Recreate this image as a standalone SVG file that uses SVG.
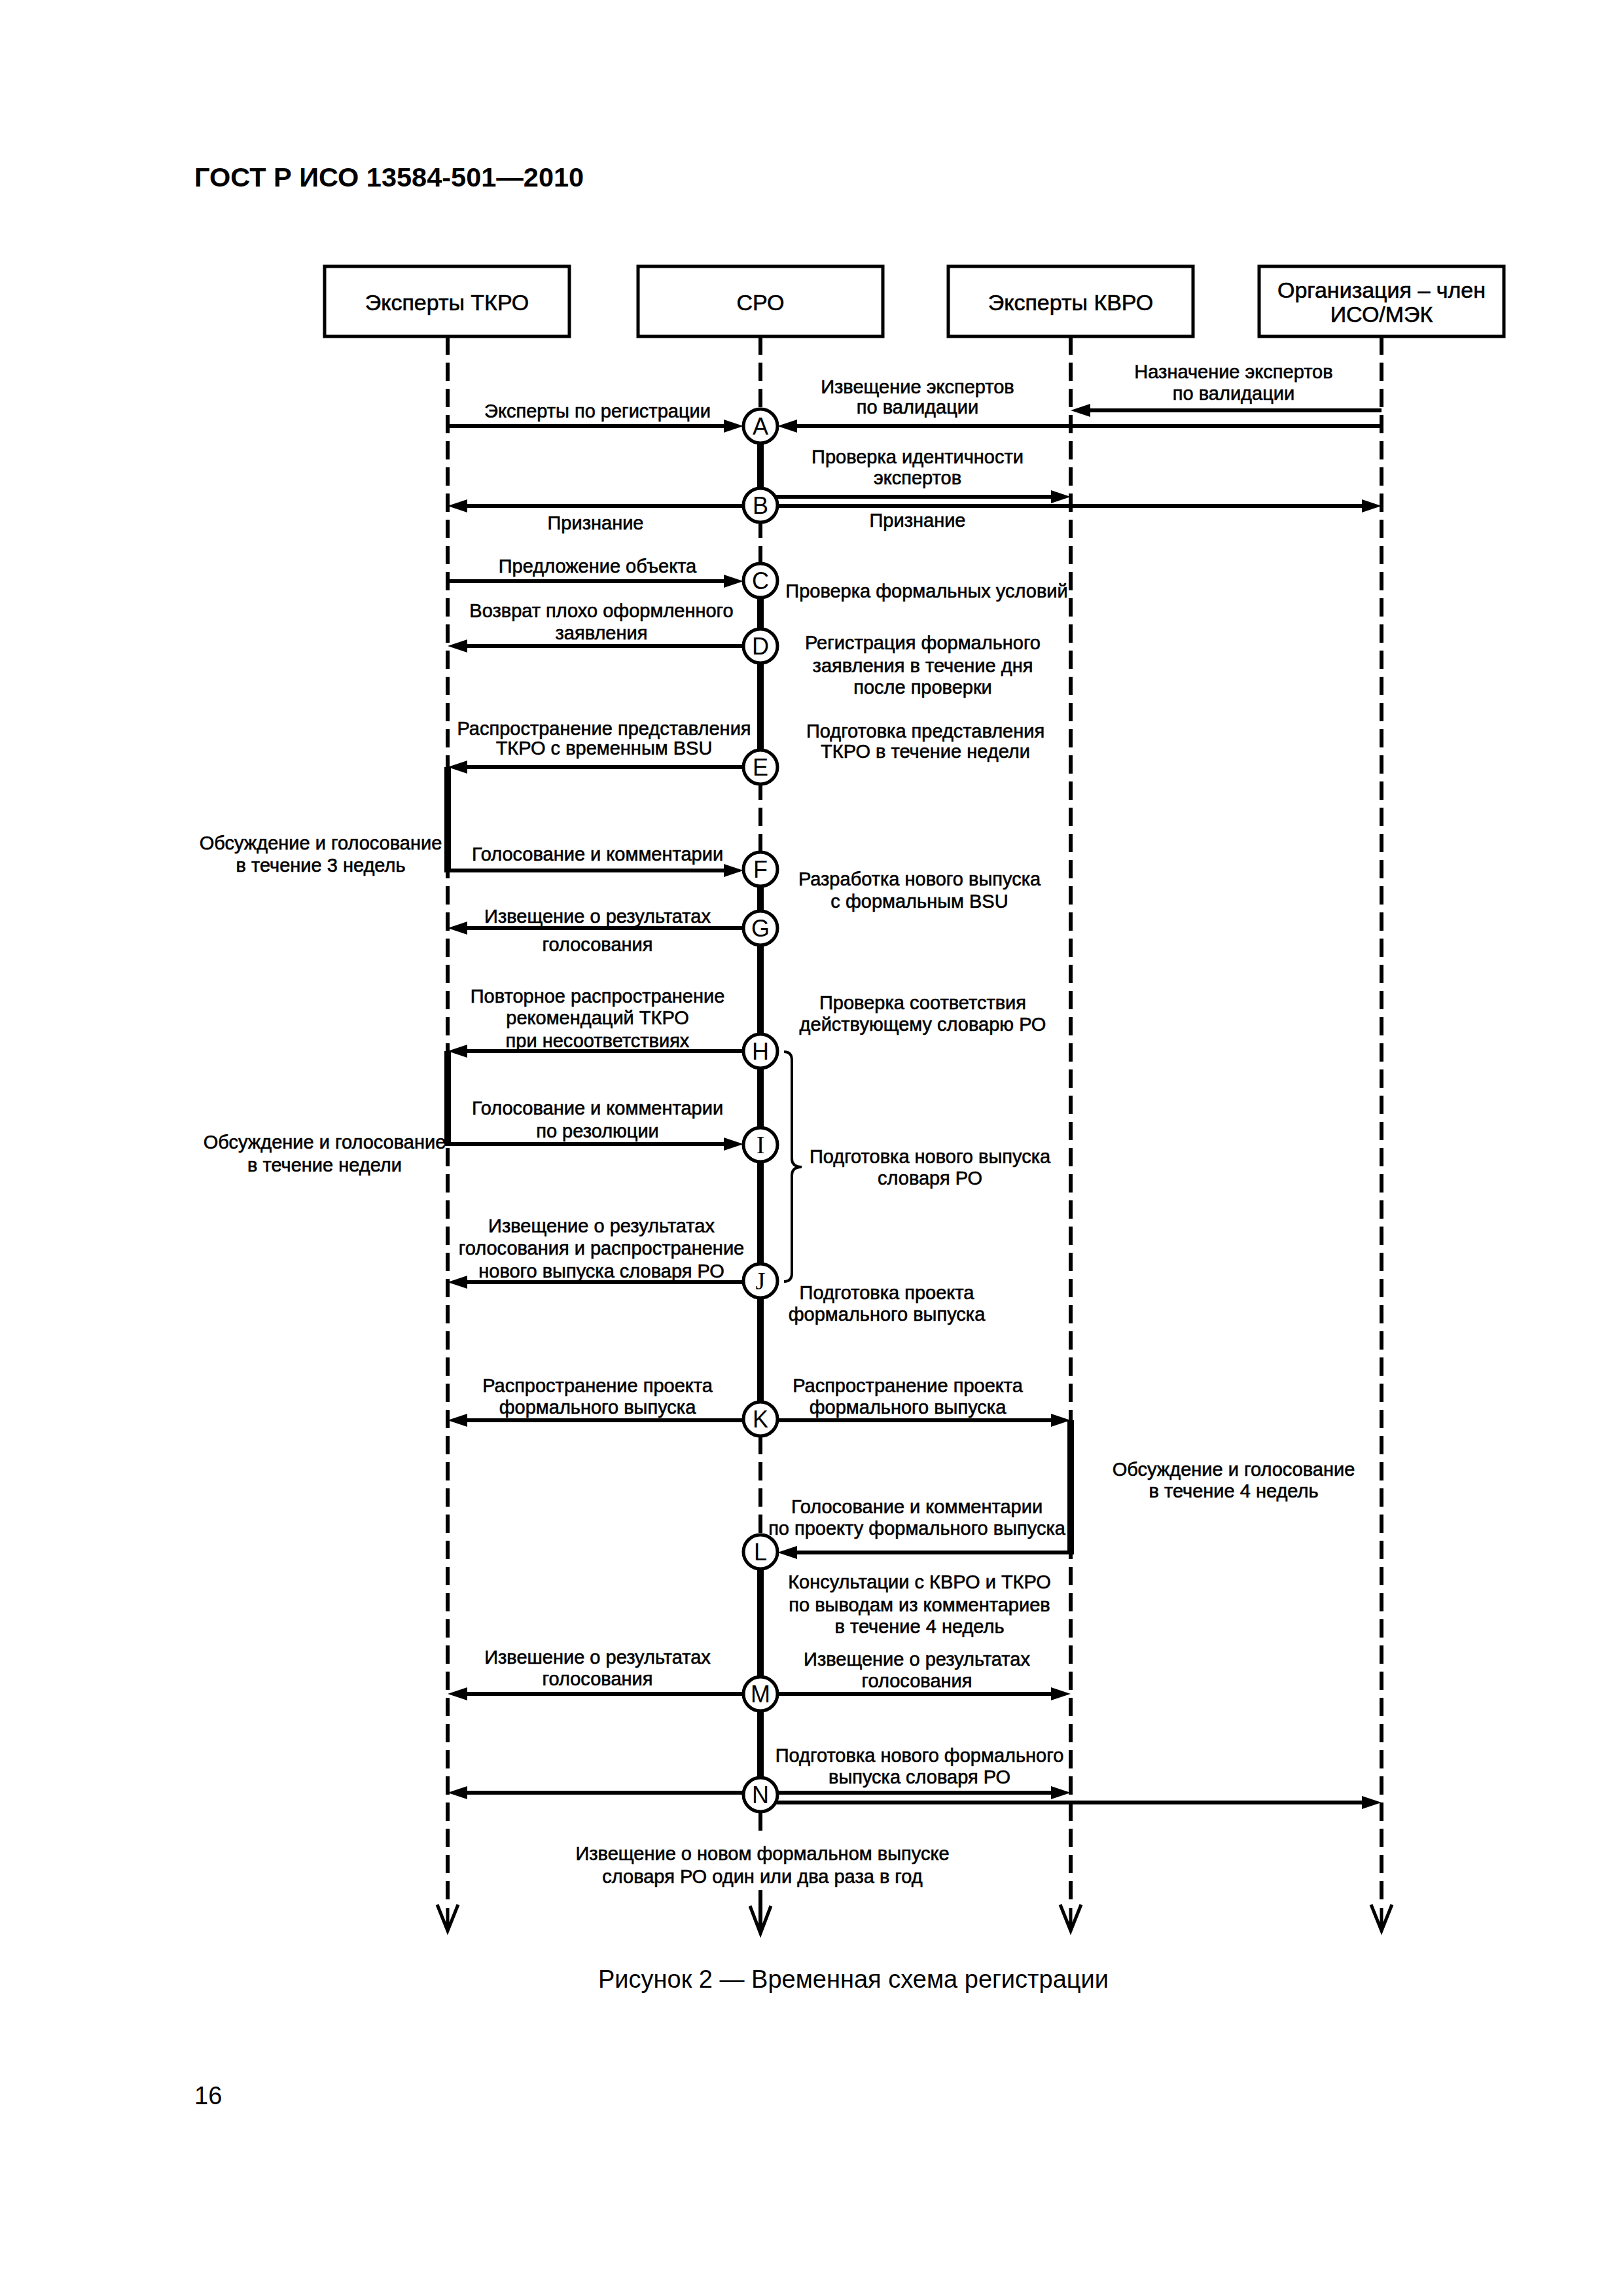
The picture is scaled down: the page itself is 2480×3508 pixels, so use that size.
<svg xmlns="http://www.w3.org/2000/svg" width="2480" height="3508" viewBox="0 0 2480 3508">
<style>
  text { font-family: "Liberation Sans", Arial, sans-serif; fill: #000; }
  .lbl { font-size: 29px; text-anchor: middle; stroke: #000; stroke-width: 0.6; }
  .box { fill: #fff; stroke: #000; stroke-width: 5; }
  .boxt { font-size: 34px; text-anchor: middle; stroke: #000; stroke-width: 0.6; }
  .ll { stroke: #000; stroke-width: 6; stroke-dasharray: 28 12; fill: none; }
  .thin { stroke: #000; stroke-width: 6; fill: none; }
  .act { stroke: #000; stroke-width: 10; fill: none; }
  .msg { stroke: #000; stroke-width: 6; fill: none; marker-end: url(#ah); }
  .cir { fill: #fff; stroke: #000; stroke-width: 5; }
  .cl { font-size: 36px; text-anchor: middle; }
  .cls { font-family: "Liberation Serif", "Times New Roman", serif; font-size: 38px; text-anchor: middle; }
  .tip { fill: none; stroke: #000; stroke-width: 5; }
  .brace { fill: none; stroke: #000; stroke-width: 4; }
</style>
<defs>
  <marker id="ah" markerUnits="userSpaceOnUse" markerWidth="30" markerHeight="20" refX="2" refY="10" orient="auto">
    <path d="M0,0 L30,10 L0,20 Z" fill="#000"/>
  </marker>
</defs>
<rect width="2480" height="3508" fill="#fff"/>

<text x="297" y="285" font-size="41.5" font-weight="bold">ГОСТ Р ИСО 13584-501—2010</text>

<g id="lifelines">
  <line class="ll" x1="684" y1="514" x2="684" y2="2912"/>
  <line class="ll" x1="1162" y1="514" x2="1162" y2="2760"/>
  <line class="thin" x1="1162" y1="2766" x2="1162" y2="2797"/>
  <line class="thin" x1="1162" y1="2888" x2="1162" y2="2950"/>
  <line class="ll" x1="1636" y1="514" x2="1636" y2="2912"/>
  <line class="ll" x1="2111" y1="514" x2="2111" y2="2912"/>
  <path class="tip" d="M668,2910 L684,2950 L700,2910 M684,2915 L684,2946"/>
  <path class="tip" d="M1146,2912 L1162,2954 L1178,2912"/>
  <path class="tip" d="M1620,2910 L1636,2950 L1652,2910 M1636,2915 L1636,2946"/>
  <path class="tip" d="M2095,2910 L2111,2950 L2127,2910 M2111,2915 L2111,2946"/>
</g>

<g id="activations">
  <line class="act" x1="1162" y1="651" x2="1162" y2="773"/>
  <line class="act" x1="1162" y1="887" x2="1162" y2="1172"/>
  <line class="act" x1="1162" y1="1328" x2="1162" y2="2170"/>
  <line class="act" x1="1162" y1="2370" x2="1162" y2="2742"/>
  <line class="act" x1="684" y1="1172" x2="684" y2="1333"/>
  <line class="act" x1="684" y1="1606" x2="684" y2="1751"/>
  <line class="act" x1="1636" y1="2170" x2="1636" y2="2375"/>
</g>

<g id="node-tkro">
  <rect class="box" x="496" y="407" width="374" height="107"/>
  <text class="boxt" x="683" y="474">Эксперты ТКРО</text>
</g>
<g id="node-sro">
  <rect class="box" x="975" y="407" width="374" height="107"/>
  <text class="boxt" x="1162" y="474">СРО</text>
</g>
<g id="node-kvro">
  <rect class="box" x="1449" y="407" width="374" height="107"/>
  <text class="boxt" x="1636" y="474">Эксперты КВРО</text>
</g>
<g id="node-org">
  <rect class="box" x="1924" y="407" width="374" height="107"/>
  <text class="boxt" x="2111" y="455">Организация – член</text>
  <text class="boxt" x="2111" y="492">ИСО/МЭК</text>
</g>

<g id="connectors">
  <!-- A -->
  <line class="msg" x1="684" y1="651" x2="1108" y2="651"/>
  <line class="msg" x1="2111" y1="651" x2="1216" y2="651"/>
  <line class="msg" x1="2111" y1="627" x2="1664" y2="627"/>
  <!-- B -->
  <line class="msg" x1="1136" y1="773" x2="712" y2="773"/>
  <line class="msg" x1="1188" y1="773" x2="2083" y2="773"/>
  <line class="msg" x1="1183" y1="759" x2="1608" y2="759"/>
  <!-- C -->
  <line class="msg" x1="684" y1="888" x2="1108" y2="888"/>
  <!-- D -->
  <line class="msg" x1="1136" y1="987" x2="712" y2="987"/>
  <!-- E -->
  <line class="msg" x1="1136" y1="1172" x2="712" y2="1172"/>
  <!-- F -->
  <line class="msg" x1="684" y1="1330" x2="1108" y2="1330"/>
  <!-- G -->
  <line class="msg" x1="1136" y1="1418" x2="712" y2="1418"/>
  <!-- H -->
  <line class="msg" x1="1136" y1="1606" x2="712" y2="1606"/>
  <!-- I -->
  <line class="msg" x1="684" y1="1748" x2="1108" y2="1748"/>
  <!-- J -->
  <line class="msg" x1="1136" y1="1959" x2="712" y2="1959"/>
  <!-- K -->
  <line class="msg" x1="1136" y1="2170" x2="712" y2="2170"/>
  <line class="msg" x1="1188" y1="2170" x2="1608" y2="2170"/>
  <!-- L -->
  <line class="msg" x1="1636" y1="2372" x2="1216" y2="2372"/>
  <!-- M -->
  <line class="msg" x1="1136" y1="2588" x2="712" y2="2588"/>
  <line class="msg" x1="1188" y1="2588" x2="1608" y2="2588"/>
  <!-- N -->
  <line class="msg" x1="1136" y1="2739" x2="712" y2="2739"/>
  <line class="msg" x1="1188" y1="2739" x2="1608" y2="2739"/>
  <line class="msg" x1="1186" y1="2754" x2="2083" y2="2754"/>
  <!-- brace H..J -->
  <path class="brace" d="M1198,1607 Q1210,1607 1210,1620 L1210,1770 Q1210,1783 1225,1783 Q1210,1783 1210,1796 L1210,1945 Q1210,1958 1198,1958"/>
</g>

<g id="node-A"><circle class="cir" cx="1162" cy="651" r="26"/><text class="cl" x="1162" y="664">A</text></g>
<g id="node-B"><circle class="cir" cx="1162" cy="772" r="26"/><text class="cl" x="1162" y="785">B</text></g>
<g id="node-C"><circle class="cir" cx="1162" cy="887" r="26"/><text class="cl" x="1162" y="900">C</text></g>
<g id="node-D"><circle class="cir" cx="1162" cy="987" r="26"/><text class="cl" x="1162" y="1000">D</text></g>
<g id="node-E"><circle class="cir" cx="1162" cy="1172" r="26"/><text class="cl" x="1162" y="1185">E</text></g>
<g id="node-F"><circle class="cir" cx="1162" cy="1328" r="26"/><text class="cl" x="1162" y="1341">F</text></g>
<g id="node-G"><circle class="cir" cx="1162" cy="1418" r="26"/><text class="cl" x="1162" y="1431">G</text></g>
<g id="node-H"><circle class="cir" cx="1162" cy="1606" r="26"/><text class="cl" x="1162" y="1619">H</text></g>
<g id="node-I"><circle class="cir" cx="1162" cy="1749" r="26"/><text class="cls" x="1162" y="1762">I</text></g>
<g id="node-J"><circle class="cir" cx="1162" cy="1957" r="26"/><text class="cls" x="1162" y="1970">J</text></g>
<g id="node-K"><circle class="cir" cx="1162" cy="2168" r="26"/><text class="cl" x="1162" y="2181">K</text></g>
<g id="node-L"><circle class="cir" cx="1162" cy="2371" r="26"/><text class="cl" x="1162" y="2384">L</text></g>
<g id="node-M"><circle class="cir" cx="1162" cy="2588" r="26"/><text class="cl" x="1162" y="2601">M</text></g>
<g id="node-N"><circle class="cir" cx="1162" cy="2742" r="26"/><text class="cl" x="1162" y="2755">N</text></g>

<g id="labels">
  <text class="lbl" x="913" y="638">Эксперты по регистрации</text>
  <text class="lbl" x="1402" y="601">Извещение экспертов</text>
  <text class="lbl" x="1402" y="632">по валидации</text>
  <text class="lbl" x="1885" y="578">Назначение экспертов</text>
  <text class="lbl" x="1885" y="611">по валидации</text>
  <text class="lbl" x="1402" y="708">Проверка идентичности</text>
  <text class="lbl" x="1402" y="740">экспертов</text>
  <text class="lbl" x="910" y="809">Признание</text>
  <text class="lbl" x="1402" y="805">Признание</text>
  <text class="lbl" x="913" y="875">Предложение объекта</text>
  <text class="lbl" x="1416" y="913">Проверка формальных условий</text>
  <text class="lbl" x="919" y="943">Возврат плохо оформленного</text>
  <text class="lbl" x="919" y="977">заявления</text>
  <text class="lbl" x="1410" y="992">Регистрация формального</text>
  <text class="lbl" x="1410" y="1027">заявления в течение дня</text>
  <text class="lbl" x="1410" y="1060">после проверки</text>
  <text class="lbl" x="923" y="1123">Распространение представления</text>
  <text class="lbl" x="923" y="1153">ТКРО с временным BSU</text>
  <text class="lbl" x="1414" y="1127">Подготовка представления</text>
  <text class="lbl" x="1414" y="1158">ТКРО в течение недели</text>
  <text class="lbl" x="490" y="1298">Обсуждение и голосование</text>
  <text class="lbl" x="490" y="1332">в течение 3 недель</text>
  <text class="lbl" x="913" y="1315">Голосование и комментарии</text>
  <text class="lbl" x="1405" y="1353">Разработка нового выпуска</text>
  <text class="lbl" x="1405" y="1387">с формальным BSU</text>
  <text class="lbl" x="913" y="1410">Извещение о результатах</text>
  <text class="lbl" x="913" y="1453">голосования</text>
  <text class="lbl" x="1410" y="1542">Проверка соответствия</text>
  <text class="lbl" x="1410" y="1575">действующему словарю РО</text>
  <text class="lbl" x="913" y="1532">Повторное распространение</text>
  <text class="lbl" x="913" y="1565">рекомендаций ТКРО</text>
  <text class="lbl" x="913" y="1600">при несоответствиях</text>
  <text class="lbl" x="496" y="1755">Обсуждение и голосование</text>
  <text class="lbl" x="496" y="1790">в течение недели</text>
  <text class="lbl" x="913" y="1703">Голосование и комментарии</text>
  <text class="lbl" x="913" y="1738">по резолюции</text>
  <text class="lbl" x="1421" y="1777">Подготовка нового выпуска</text>
  <text class="lbl" x="1421" y="1810">словаря РО</text>
  <text class="lbl" x="919" y="1883">Извещение о результатах</text>
  <text class="lbl" x="919" y="1917">голосования и распространение</text>
  <text class="lbl" x="919" y="1952">нового выпуска словаря РО</text>
  <text class="lbl" x="1355" y="1985">Подготовка проекта</text>
  <text class="lbl" x="1355" y="2018">формального выпуска</text>
  <text class="lbl" x="913" y="2127">Распространение проекта</text>
  <text class="lbl" x="913" y="2160">формального выпуска</text>
  <text class="lbl" x="1387" y="2127">Распространение проекта</text>
  <text class="lbl" x="1387" y="2160">формального выпуска</text>
  <text class="lbl" x="1885" y="2255">Обсуждение и голосование</text>
  <text class="lbl" x="1885" y="2288">в течение 4 недель</text>
  <text class="lbl" x="1401" y="2312">Голосование и комментарии</text>
  <text class="lbl" x="1401" y="2345">по проекту формального выпуска</text>
  <text class="lbl" x="1405" y="2427">Консультации с КВРО и ТКРО</text>
  <text class="lbl" x="1405" y="2462">по выводам из комментариев</text>
  <text class="lbl" x="1405" y="2495">в течение 4 недель</text>
  <text class="lbl" x="913" y="2542">Извешение о результатах</text>
  <text class="lbl" x="913" y="2575">голосования</text>
  <text class="lbl" x="1401" y="2545">Извещение о результатах</text>
  <text class="lbl" x="1401" y="2578">голосования</text>
  <text class="lbl" x="1405" y="2692">Подготовка нового формального</text>
  <text class="lbl" x="1405" y="2725">выпуска словаря РО</text>
  <text class="lbl" x="1165" y="2842">Извещение о новом формальном выпуске</text>
  <text class="lbl" x="1165" y="2877">словаря РО один или два раза в год</text>
</g>

<text x="1304" y="3037" font-size="38" text-anchor="middle">Рисунок 2 — Временная схема регистрации</text>
<text x="297" y="3215" font-size="38">16</text>
</svg>
